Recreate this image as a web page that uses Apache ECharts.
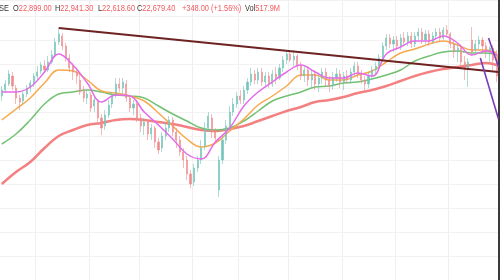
<!DOCTYPE html>
<html><head><meta charset="utf-8">
<script src="https://cdn.jsdelivr.net/npm/echarts@6/dist/echarts.min.js"></script>
<style>html,body{margin:0;padding:0;background:#fff}#c{width:500px;height:280px}</style>
</head><body><div id="c"></div><script>
// candles: [open, close, low, high]
const candles = [
[22480,22540,22430,22580],[22540,22600,22510,22640],[22600,22700,22580,22740],[22680,22580,22540,22720],
[22560,22460,22400,22590],[22460,22420,22340,22490],[22430,22500,22400,22530],[22500,22560,22470,22590],
[22560,22610,22520,22640],[22600,22680,22570,22710],[22680,22720,22640,22780],[22730,22790,22700,22820],
[22780,22740,22710,22840],[22740,22820,22720,22880],[22820,22890,22800,22940],[22890,23020,22870,23060],
[23020,23100,22990,23160],[23080,22980,22940,23110],[22980,22860,22820,23010],[22860,22760,22720,22900],
[22780,22720,22640,22810],[22720,22680,22600,22760],[22640,22520,22490,22690],[22540,22460,22420,22580],
[22460,22500,22400,22540],[22490,22360,22320,22520],[22380,22440,22320,22470],[22420,22260,22190,22450],
[22260,22160,22090,22300],[22180,22290,22140,22340],[22290,22390,22260,22440],[22400,22480,22360,22520],
[22490,22600,22460,22660],[22600,22560,22520,22660],[22560,22620,22500,22660],[22600,22460,22420,22640],
[22460,22360,22320,22490],[22360,22400,22290,22440],[22400,22260,22220,22440],[22260,22180,22120,22300],
[22180,22220,22090,22260],[22220,22100,22040,22240],[22100,22160,22040,22200],[22160,22020,21960,22180],
[22020,21940,21900,22060],[21960,22080,21920,22120],[22080,22160,22040,22220],[22160,22240,22120,22280],
[22240,22120,22080,22270],[22120,22040,21960,22160],[22040,21920,21880,22080],[21920,21840,21760,21960],
[21840,21700,21640,21880],[21700,21600,21560,21740],[21620,21760,21580,21800],[21760,21840,21720,21880],
[21840,21960,21800,22040],[21980,22160,21940,22220],[22160,22280,22120,22320],[22260,22120,22060,22300],
[22120,22060,22020,22160],[21540,21840,21470,21880],[21840,22040,21800,22080],[22040,22180,22000,22240],
[22180,22320,22140,22380],[22320,22400,22280,22460],[22400,22480,22360,22520],[22480,22440,22400,22540],
[22440,22540,22400,22580],[22540,22620,22500,22660],[22620,22700,22580,22760],[22700,22640,22600,22740],
[22640,22720,22600,22760],[22720,22620,22580,22760],[22620,22680,22560,22720],[22680,22600,22560,22720],
[22600,22700,22570,22740],[22700,22660,22600,22770],[22660,22760,22640,22800],[22760,22840,22720,22880],
[22840,22900,22800,22940],[22900,22840,22820,22940],[22840,22880,22780,22940],[22880,22780,22740,22900],
[22780,22680,22640,22820],[22680,22740,22620,22780],[22740,22640,22580,22770],[22640,22700,22560,22740],
[22700,22600,22540,22740],[22600,22660,22520,22700],[22660,22720,22600,22760],[22720,22640,22580,22760],
[22640,22580,22520,22680],[22580,22660,22540,22720],[22660,22700,22620,22760],[22700,22620,22560,22740],
[22620,22680,22540,22720],[22680,22640,22600,22740],[22640,22720,22600,22760],[22720,22780,22680,22820],
[22780,22700,22660,22820],[22700,22640,22600,22740],[22640,22600,22540,22680],[22600,22680,22560,22720],
[22680,22740,22640,22780],[22740,22780,22700,22820],[22780,22860,22740,22900],[22860,22980,22840,23020],
[22980,23060,22940,23100],[23060,23000,22960,23100],[23000,23040,22920,23080],[23040,22980,22940,23080],
[22980,23060,22940,23100],[23060,23020,22980,23120],[23020,23080,22980,23120],[23080,23000,22960,23120],
[23000,23080,22970,23120],[23080,23120,23040,23160],[23120,23040,23000,23160],[23040,23100,23000,23140],
[23100,23020,22980,23140],[23020,23080,23000,23120],[23080,23120,23040,23160],[23120,23060,23020,23160],
[23060,23140,23040,23170],[23140,23100,23070,23190],[23100,23000,22960,23120],[23000,22920,22860,23040],
[22920,22960,22820,23000],[22960,22820,22760,22980],[22820,22740,22640,22880],[22740,22820,22570,22860],
[23040,22920,22880,23170],[22940,23000,22890,23040],[23000,23040,22940,23080],[23040,22980,22920,23070],
[22980,22920,22860,23020],[22920,22960,22820,22980],[22960,22840,22740,22990],[22899.0,22679.4,22618.6,22941.3]
];
const categories = candles.map((_, i) => 'd' + i);

// moving averages sampled at bar indices
const maIdx = [0,4,8,12,16,20,24,28,32,36,40,44,48,52,56,60,64,68,72,76,80,84,88,92,96,100,104,108,112,116,120,124,128,132,136,139];
const maShort = [22520,22520,22570,22720,22900,22790,22610,22420,22490,22480,22320,22190,22050,21900,21850,22020,22160,22380,22520,22620,22720,22790,22720,22660,22660,22710,22680,22900,22970,23030,23030,23080,23010,22890,22930,22890];
const maMid = [22240,22350,22460,22610,22740,22730,22640,22530,22510,22480,22430,22310,22180,22050,21970,22010,22130,22250,22390,22480,22580,22690,22690,22640,22640,22690,22730,22820,22910,22950,23000,23030,22990,22940,22940,22910];
const maLong = [22000,22100,22240,22400,22500,22520,22540,22520,22490,22480,22460,22380,22300,22230,22160,22140,22160,22230,22330,22430,22480,22520,22570,22580,22610,22620,22650,22690,22740,22830,22880,22920,22930,22910,22910,22890];
const ma200 = [21600,21720,21820,21960,22080,22140,22190,22210,22240,22250,22240,22220,22200,22170,22140,22130,22150,22180,22230,22280,22330,22370,22420,22440,22470,22510,22540,22580,22630,22680,22720,22750,22770,22790,22810,22790];

// drawn lines
const trendIdx = [16, 139.5];
const trendVals = [23160, 22720];
const purpleAIdx = [134.4, 139.5];
const purpleAVals = [22860, 22250];
const purpleBIdx = [136.7, 139.5];
const purpleBVals = [23060, 22770];

// vertical grid (month) boundaries
const gridIdx = [10,25,39,54,67,81,96,111,126];

// header legend
const headerLabels = ['SE','O','H','L','C','','Vol'];
const headerValues = ['','22,899.00','22,941.30','22,618.60','22,679.40','+348.00 (+1.56%)','517.9M'];

const pairs = (xs, ys) => xs.map((x, i) => [x, ys[i]]);
const chart = echarts.init(document.getElementById('c'), null, {renderer: 'canvas'});
const red = '#ef5a5f';
const hx = [-1, 13, 55, 98, 137, 182, 245];
const font = 'Liberation Sans';
const option = {
  animation: false,
  backgroundColor: '#ffffff',
  grid: {left: 0, right: 1.5, top: 0, bottom: 0},
  xAxis: [
    {type: 'category', data: categories, boundaryGap: true,
     axisLine: {show: false}, axisTick: {show: false}, axisLabel: {show: false},
     splitLine: {show: true, interval: (i) => gridIdx.includes(i), lineStyle: {color: '#efefef', width: 1}}},
    {type: 'value', min: -0.5, max: 139.5, show: false}
  ],
  yAxis: {type: 'value', position: 'right', min: 20640, max: 23440, interval: 240, scale: true,
    axisLine: {show: true, onZero: false, lineStyle: {color: '#3a3a3a', width: 2}},
    axisTick: {show: false}, axisLabel: {show: false},
    splitLine: {show: true, lineStyle: {color: '#f2f2f2', width: 1}}},
  series: [
    {type: 'line', xAxisIndex: 1, data: pairs(maIdx, ma200), smooth: 0.4, symbol: 'none',
     lineStyle: {color: '#f26b6b', width: 2.6, opacity: 0.85}, z: 2},
    {type: 'line', xAxisIndex: 1, data: pairs(maIdx, maLong), smooth: 0.4, symbol: 'none',
     lineStyle: {color: '#72c172', width: 1.5}, z: 3},
    {type: 'line', xAxisIndex: 1, data: pairs(maIdx, maMid), smooth: 0.4, symbol: 'none',
     lineStyle: {color: '#f7a94d', width: 1.5}, z: 3},
    {type: 'candlestick', xAxisIndex: 0, data: candles, barWidth: '45%',
     itemStyle: {color: '#72c5ba', color0: '#f08c8d', borderColor: '#72c5ba', borderColor0: '#f08c8d', borderWidth: 0.6}, z: 4},
    {type: 'line', xAxisIndex: 1, data: pairs(maIdx, maShort), smooth: 0.4, symbol: 'none',
     lineStyle: {color: '#e46be9', width: 1.5}, z: 5},
    {type: 'line', xAxisIndex: 1, data: pairs(trendIdx, trendVals), symbol: 'none',
     lineStyle: {color: '#6e2222', width: 2}, z: 6},
    {type: 'line', xAxisIndex: 1, data: pairs(purpleAIdx, purpleAVals), symbol: 'none',
     lineStyle: {color: '#7a3cb8', width: 1.6}, z: 6},
    {type: 'line', xAxisIndex: 1, data: pairs(purpleBIdx, purpleBVals), symbol: 'none',
     lineStyle: {color: '#7a3cb8', width: 1.6}, z: 6}
  ],
  graphic: headerLabels.map((lab, i) => ({
    type: 'text', x: hx[i], y: 3, scaleX: 0.78, scaleY: 1, z: 100,
    style: {
      text: '{a|' + lab + '}{b|' + headerValues[i] + '}',
      textVerticalAlign: 'top',
      rich: {
        a: {fontFamily: font, fontSize: 9.5, fill: '#333333'},
        b: {fontFamily: font, fontSize: 9.5, fill: red}
      }
    }
  }))
};
chart.setOption(option);
</script></body></html>
